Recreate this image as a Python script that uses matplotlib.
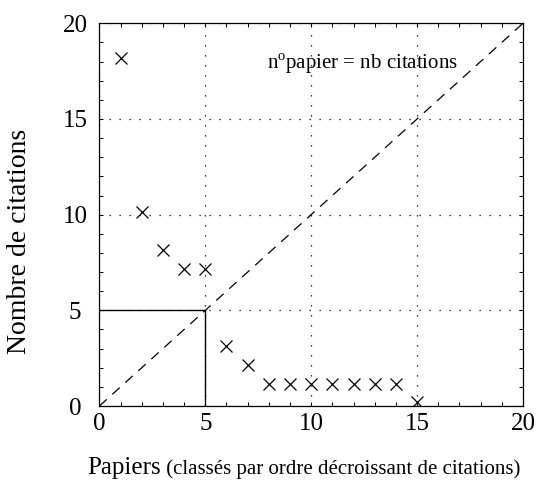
import matplotlib
matplotlib.use("Agg")
import matplotlib.pyplot as plt
from matplotlib.ticker import MultipleLocator

plt.rcParams.update({
    "font.family": "serif",
    "font.serif": ["Liberation Serif", "DejaVu Serif"],
    "mathtext.fontset": "custom",
    "mathtext.rm": "Liberation Serif",
    "axes.linewidth": 0.9,
})

# classement des papiers et nombre de citations
papiers = [1, 2, 3, 4, 5, 6, 7, 8, 9, 10, 11, 12, 13, 14, 15]
citations = [18.2, 10.15, 8.15, 7.15, 7.15, 3.15, 2.15, 1.15, 1.15, 1.15,
             1.15, 1.15, 1.15, 1.15, 0.2]
h_index = 5
ticks = [0, 5, 10, 15, 20]

fig = plt.figure(figsize=(5.37, 4.94), dpi=100)
ax = fig.add_axes([0.185, 0.178, 0.789, 0.775])

ax.plot([0, 20], [0, 20], color="black", ls=(0, (8, 6)), lw=0.9)
ax.plot([0, h_index, h_index], [h_index, h_index, 0], color="black", lw=1.0)
ax.plot(papiers, citations, ls="none", marker="x", ms=8, mew=0.9, color="black")

ax.set_xlim(0, 20)
ax.set_ylim(0, 20)
ax.set_xticks(ticks)
ax.set_yticks(ticks)
ax.xaxis.set_minor_locator(MultipleLocator(1))
ax.yaxis.set_minor_locator(MultipleLocator(1))
ax.tick_params(which="both", direction="in", top=True, right=True,
               length=3, width=0.7, labelsize=18)
ax.tick_params(axis="x", pad=5)
ax.tick_params(axis="y", pad=17.5)
for lab in ax.get_yticklabels():
    lab.set_horizontalalignment("center")
ax.grid(True, which="major", color="black", ls=(0, (1, 7)), lw=0.9)

ax.text(12.4, 17.9, r"n$^{\rm o}$papier = nb citations", ha="center",
        va="center", fontsize=15)

ax.set_ylabel("Nombre de citations", fontsize=20)
ax.yaxis.set_label_coords(-0.16, 0.43)

t1 = fig.text(0.162, 0.04, "Papiers", fontsize=18, ha="left", va="baseline")
ax.annotate(" (classés par ordre décroissant de citations)", xy=(1, 0),
            xycoords=t1, fontsize=15, ha="left", va="bottom")

fig.savefig("out.png", dpi=100)
